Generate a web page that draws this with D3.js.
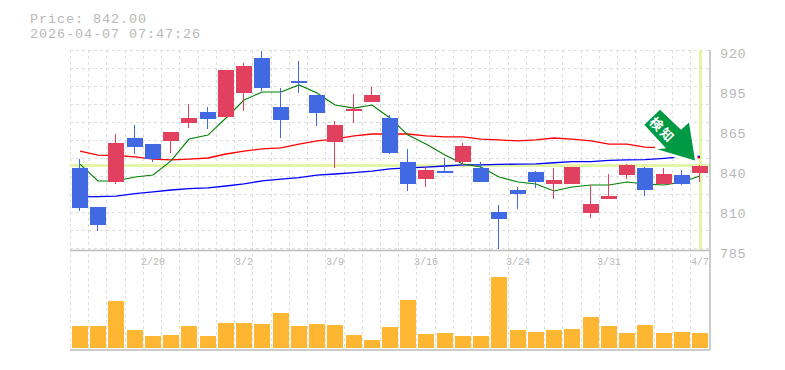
<!DOCTYPE html>
<html>
<head>
<meta charset="utf-8">
<script src="https://cdn.jsdelivr.net/npm/d3@7"></script>
<style>
  html, body { margin: 0; background: #fff; }
  svg { display: block; }
  text { font-family: "Liberation Mono", monospace; fill: #b8b8b8; }
</style>
</head>
<body>
<div id="chart"></div>
<script>
const dates = ['2/16','2/17','2/18','2/19','2/20','2/24','2/25','2/26','2/27','3/2','3/3','3/4','3/5','3/6','3/9','3/10','3/11','3/12','3/13','3/16','3/17','3/18','3/19','3/23','3/24','3/25','3/26','3/27','3/30','3/31','4/1','4/2','4/3','4/6','4/7']
const dateTicks = ['2/20','3/2','3/9','3/16','3/24','3/31','4/7']
const priceTicks = [920, 893, 866, 839, 812, 785]

const opens = [840.4,814,830.9,860.6,856.5,858.6,870.7,878.2,874.8,891,914.6,881.5,899.1,889.6,857.9,878.8,884.9,874.1,844.4,832.9,838.3,844.4,840.4,810.6,825.5,837.6,829.6,829.6,810,819.4,835.6,840.4,829.6,835.6,837]
const highs = [846.4,814,863.3,869.4,856.5,864.6,883.5,881.5,906.5,911.2,919.3,894.4,912.6,889.6,872.1,890.3,895,876.1,853.2,841,847.1,857.2,844.4,815.4,827.5,838.3,840.4,841,828.9,836.3,843,841,840.4,839,842.4]
const lows = [811.3,797.8,829.6,849.8,844.4,850.5,867.4,866.7,874.8,878.8,892.3,860.6,891,868.7,840.4,870.7,884.9,849.8,824.8,827.5,837,842.4,830.9,785.7,812.7,826.8,819.4,829.6,806.6,819.4,832.9,821.4,829.6,828.9,830.9]
const closes = [813.4,802,857.2,854.5,846.4,864.6,874.1,873.4,906.5,909.2,894.4,872.8,897.7,877.5,869.4,880.2,889.6,850.5,829.6,839,837,855.2,830.9,805.9,822.8,830.9,832.2,841,816,821.4,842.4,825.5,836.3,829.6,842]
const volumes = [2200,2200,4700,1800,1200,1300,2200,1200,2500,2500,2400,3500,2200,2400,2300,1300,800,2100,4800,1400,1500,1200,1200,7100,1800,1600,1800,1900,3100,2200,1500,2300,1500,1600,1500]

const maShort = [843,831.6,831.6,834.3,835.6,845.1,859.9,862.6,874.1,886.2,891.6,891.6,896.4,891,882.9,880.8,882.9,874.1,862.6,856.5,849.1,843,841,834.3,830.9,829.6,824.8,827.5,828.9,828.9,830.9,829.6,828.9,830.9,834.9]
const maMid = [851.8,849.1,848.8,847.8,846.4,845.8,846.4,847.1,849.8,851.8,853.2,853.9,856.5,858.6,859.9,862,863.3,863.3,863.3,862,861.3,861.3,859.9,859.3,858.6,859.3,860.6,859.9,858.6,856.5,856.5,854.5,853.9,850.5,847.1]
const maLong = [820.8,821,821.4,823,824.2,825.5,826.4,827,828.2,829.6,831.6,832.9,833.9,835.6,836.3,837.2,838.3,839.7,840.4,841,841.7,842.4,842.4,842.8,843,843.2,843.9,844.6,844.6,845.5,845.8,846,846.9,847.8,848.2]

const lastPrice = 842
const priceLabel = 'Price: 842.00'
const timeLabel = '2026-04-07 07:47:26'
const signalLabel = '検知'

const width = 785, height = 370
const plotLeft = 70, plotRight = 710, plotTop = 50, priceBottom = 250, volBottom = 350

const x = d3.scaleBand().domain(dates).range([70.8, 709.2])
const y = d3.scaleLinear().domain([785, 920]).range([priceBottom, plotTop])
const v = d3.scaleLinear().domain([0, d3.max(volumes)]).range([348, 277])
const cx = d => Math.round(x(d) + x.bandwidth() / 2)

const svg = d3.select('#chart').append('svg')
    .attr('width', width)
    .attr('height', height)

// grid
const grid = svg.append('g')
    .attr('stroke', '#ddd')
    .attr('stroke-dasharray', '3,3')
grid.selectAll('.h').data(d3.range(0, 12)).join('line')
    .attr('class', 'h')
    .attr('x1', plotLeft).attr('x2', plotRight)
    .attr('y1', d => plotTop + d * 18 + 0.5).attr('y2', d => plotTop + d * 18 + 0.5)
grid.selectAll('.v').data(dates).join('line')
    .attr('class', 'v')
    .attr('x1', d => cx(d) - 9.5).attr('x2', d => cx(d) - 9.5)
    .attr('y1', plotTop).attr('y2', volBottom)

// last price highlight
svg.append('rect')
    .attr('x', plotLeft).attr('width', plotRight - plotLeft)
    .attr('y', y(lastPrice) - 1.5).attr('height', 3)
    .attr('fill', '#e4f5a8')
svg.append('rect')
    .attr('x', cx('4/7') - 1).attr('width', 3)
    .attr('y', plotTop).attr('height', priceBottom - plotTop)
    .attr('fill', '#e4f5a8')

// frame
const frame = svg.append('g').attr('stroke', '#bbb').attr('stroke-width', 1.5)
frame.append('line').attr('x1', plotLeft).attr('x2', plotRight).attr('y1', priceBottom + 0.5).attr('y2', priceBottom + 0.5)
frame.append('line').attr('x1', plotLeft).attr('x2', plotRight).attr('y1', volBottom).attr('y2', volBottom)
frame.append('line').attr('x1', plotRight).attr('x2', plotRight).attr('y1', plotTop).attr('y2', volBottom)

// moving averages
const line = d3.line().x((d, i) => cx(dates[i])).y(d => y(d))
const mas = [[maLong, '#0000ff', 1.3], [maMid, '#ff0000', 1.3], [maShort, '#008000', 1.1]]
mas.forEach(([values, color, w]) => {
  svg.append('path')
      .attr('d', line(values))
      .attr('fill', 'none')
      .attr('stroke', color)
      .attr('stroke-width', w)
})

// candles
const upColor = '#e2405f', downColor = '#4169e1'
const candles = svg.append('g').selectAll('g').data(dates).join('g')
    .attr('fill', (d, i) => closes[i] >= opens[i] ? upColor : downColor)
    .attr('shape-rendering', 'crispEdges')
candles.append('rect')
    .attr('x', d => cx(d) - 1).attr('width', 1)
    .attr('y', (d, i) => y(highs[i]))
    .attr('height', (d, i) => y(lows[i]) - y(highs[i]))
candles.append('rect')
    .attr('x', d => cx(d) - 8).attr('width', 16)
    .attr('y', (d, i) => y(Math.max(opens[i], closes[i])))
    .attr('height', (d, i) => Math.max(2, Math.abs(y(opens[i]) - y(closes[i]))))

// volume
svg.append('g').selectAll('rect').data(dates).join('rect')
    .attr('x', d => cx(d) - 8).attr('width', 16)
    .attr('y', (d, i) => v(volumes[i]))
    .attr('height', (d, i) => 348 - v(volumes[i]))
    .attr('fill', '#ffb733')

// signal arrow, placed from the last candle
const tipX = cx('4/7') - 5, tipY = y(lastPrice) - 5
const arrow = svg.append('g').attr('transform', `translate(${tipX},${tipY})`)
const arrowShape = [[0,0],[-37.7,-11.4],[-29,-12.4],[-50.7,-35.7],[-35,-50.7],[-14,-30.7],[-6,-38]]
arrow.append('path')
    .attr('d', d3.line()(arrowShape) + 'Z')
    .attr('fill', '#009944')
    .attr('stroke', '#fff')
    .attr('stroke-width', 6)
    .attr('stroke-linejoin', 'round')
    .attr('paint-order', 'stroke')
arrow.append('text')
    .attr('transform', 'translate(-32,-31) rotate(45)')
    .attr('text-anchor', 'middle')
    .attr('dominant-baseline', 'central')
    .attr('font-size', 13)
    .attr('font-weight', 700)
    .attr('letter-spacing', 2)
    .style('font-family', '"Noto Sans CJK JP"')
    .style('fill', '#fff')
    .text(signalLabel)

// axis labels
svg.selectAll('.ptick').data(priceTicks).join('text')
    .attr('class', 'ptick')
    .attr('x', 720)
    .attr('y', d => y(d) + 7.5)
    .attr('font-size', 13.5)
    .attr('letter-spacing', 0.7)
    .text(d => Math.round(d / 5) * 5)
svg.selectAll('.dtick').data(dateTicks).join('text')
    .attr('class', 'dtick')
    .attr('x', d => cx(d))
    .attr('y', 265)
    .attr('text-anchor', 'middle')
    .attr('font-size', 10)
    .text(d => d)

svg.append('text').attr('x', 30).attr('y', 22.7).attr('font-size', 13.5).attr('letter-spacing', 0.9).text(priceLabel)
svg.append('text').attr('x', 30).attr('y', 38).attr('font-size', 13.5).attr('letter-spacing', 0.9).text(timeLabel)
</script>
</body>
</html>
